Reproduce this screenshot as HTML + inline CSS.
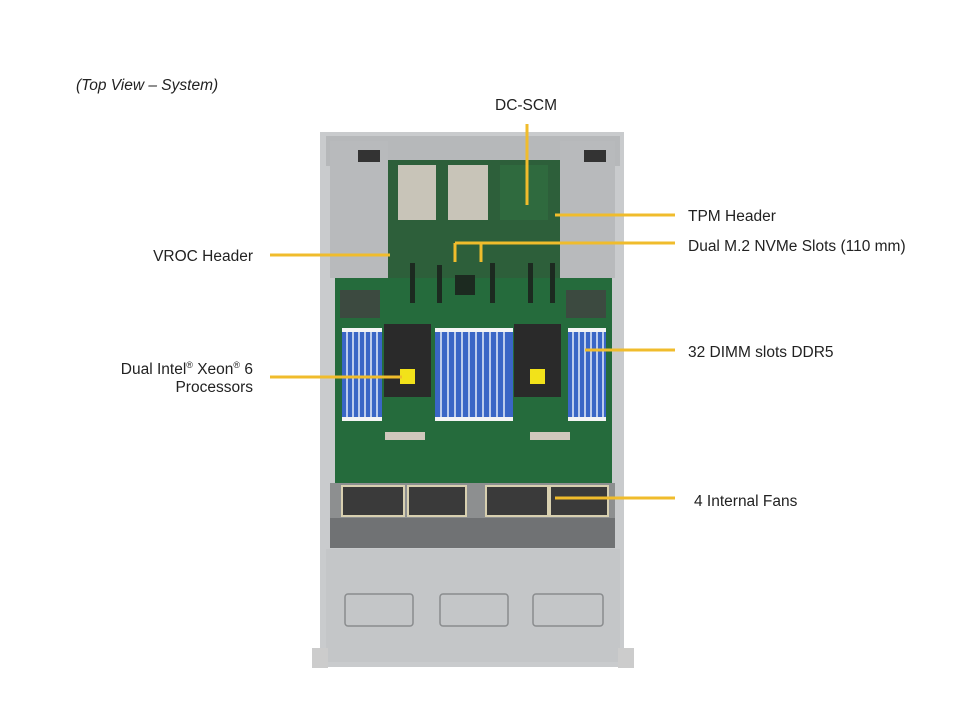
<!DOCTYPE html>
<html><head><meta charset="utf-8"><style>
body{margin:0;background:#fff;width:960px;height:720px;overflow:hidden;font-family:"Liberation Sans",sans-serif;}
svg{position:absolute;left:0;top:0}
</style></head><body>
<svg width="960" height="720" viewBox="0 0 960 720">
<g font-family="Liberation Sans, sans-serif" font-size="15.5" fill="#222">
<text x="76" y="90" font-style="italic">(Top View – System)</text>
<text x="495" y="110">DC-SCM</text>
<text x="688" y="221">TPM Header</text>
<text x="688" y="251">Dual M.2 NVMe Slots (110 mm)</text>
<text x="253" y="261" text-anchor="end">VROC Header</text>
<text x="688" y="357">32 DIMM slots DDR5</text>
<text x="253" y="374" text-anchor="end">Dual Intel<tspan font-size="9" dy="-6">®</tspan><tspan dy="6">  Xeon</tspan><tspan font-size="9" dy="-6">®</tspan><tspan dy="6"> 6</tspan></text>
<text x="253" y="392" text-anchor="end">Processors</text>
<text x="694" y="506">4 Internal  Fans</text>
</g>
<!-- chassis -->
<rect x="320" y="132" width="304" height="535" fill="#c9cbcd"/>
<rect x="326" y="136" width="294" height="30" fill="#b6b8ba"/>
<rect x="330" y="141" width="58" height="137" fill="#b8babc"/>
<rect x="560" y="141" width="55" height="137" fill="#b8babc"/>
<rect x="358" y="150" width="22" height="12" fill="#333"/>
<rect x="584" y="150" width="22" height="12" fill="#333"/>
<rect x="388" y="160" width="172" height="118" fill="#2d5f3a"/>
<rect x="398" y="165" width="38" height="55" fill="#c8c4b8"/>
<rect x="448" y="165" width="40" height="55" fill="#c8c4b8"/>
<rect x="500" y="165" width="48" height="55" fill="#2f6a3e"/>
<rect x="335" y="278" width="277" height="205" fill="#256b3c"/>
<g fill="#1c2a20">
<rect x="410" y="263" width="5" height="40"/><rect x="437" y="265" width="5" height="38"/>
<rect x="490" y="263" width="5" height="40"/><rect x="528" y="263" width="5" height="40"/><rect x="550" y="263" width="5" height="40"/>
<rect x="455" y="275" width="20" height="20"/>
</g>
<rect x="340" y="290" width="40" height="28" fill="#3c4a40"/>
<rect x="566" y="290" width="40" height="28" fill="#3c4a40"/>
<!-- DIMMs -->
<g fill="#3a66c6">
<rect x="342" y="330" width="40" height="90"/>
<rect x="435" y="330" width="78" height="90"/>
<rect x="568" y="330" width="38" height="90"/>
</g>
<g stroke="#e8eef8" stroke-width="1.5">
<path d="M347 330v90M353 330v90M359 330v90M365 330v90M371 330v90M377 330v90"/>
<path d="M441 330v90M448 330v90M455 330v90M462 330v90M469 330v90M476 330v90M483 330v90M490 330v90M497 330v90M504 330v90"/>
<path d="M573 330v90M579 330v90M585 330v90M591 330v90M597 330v90M603 330v90"/>
</g>
<g fill="#f4f4f4">
<rect x="342" y="328" width="40" height="4"/><rect x="435" y="328" width="78" height="4"/><rect x="568" y="328" width="38" height="4"/>
<rect x="342" y="417" width="40" height="4"/><rect x="435" y="417" width="78" height="4"/><rect x="568" y="417" width="38" height="4"/>
</g>
<rect x="384" y="324" width="47" height="73" fill="#2a2a2a"/>
<rect x="514" y="324" width="47" height="73" fill="#2a2a2a"/>
<rect x="400" y="369" width="15" height="15" fill="#f2e21a"/>
<rect x="530" y="369" width="15" height="15" fill="#f2e21a"/>
<g fill="#cfc8bc"><rect x="385" y="432" width="40" height="8"/><rect x="530" y="432" width="40" height="8"/></g>
<!-- fans -->
<rect x="330" y="483" width="285" height="35" fill="#8d8f90"/>
<rect x="342" y="486" width="62" height="30" fill="#3a3a3a" stroke="#d8d0b0" stroke-width="2"/>
<rect x="408" y="486" width="58" height="30" fill="#3a3a3a" stroke="#d8d0b0" stroke-width="2"/>
<rect x="486" y="486" width="62" height="30" fill="#3a3a3a" stroke="#d8d0b0" stroke-width="2"/>
<rect x="550" y="486" width="58" height="30" fill="#3a3a3a" stroke="#d8d0b0" stroke-width="2"/>
<rect x="330" y="518" width="285" height="30" fill="#707274"/>
<rect x="326" y="549" width="294" height="113" fill="#c4c6c8"/>
<g fill="none" stroke="#8a8c8e" stroke-width="1.5">
<rect x="345" y="594" width="68" height="32" rx="3"/>
<rect x="440" y="594" width="68" height="32" rx="3"/>
<rect x="533" y="594" width="70" height="32" rx="3"/>
</g>
<rect x="312" y="648" width="16" height="20" fill="#ccc"/>
<rect x="618" y="648" width="16" height="20" fill="#ccc"/>
<!-- connectors -->
<g stroke="#f0bc2c" stroke-width="3" fill="none">
<path d="M527 124V205"/>
<path d="M555 215H675"/>
<path d="M455 243H675M455 243V262M481 243V262"/>
<path d="M270 255H390"/>
<path d="M270 377H402"/>
<path d="M585 350H675"/>
<path d="M555 498H675"/>
</g>
</svg>
</body></html>
